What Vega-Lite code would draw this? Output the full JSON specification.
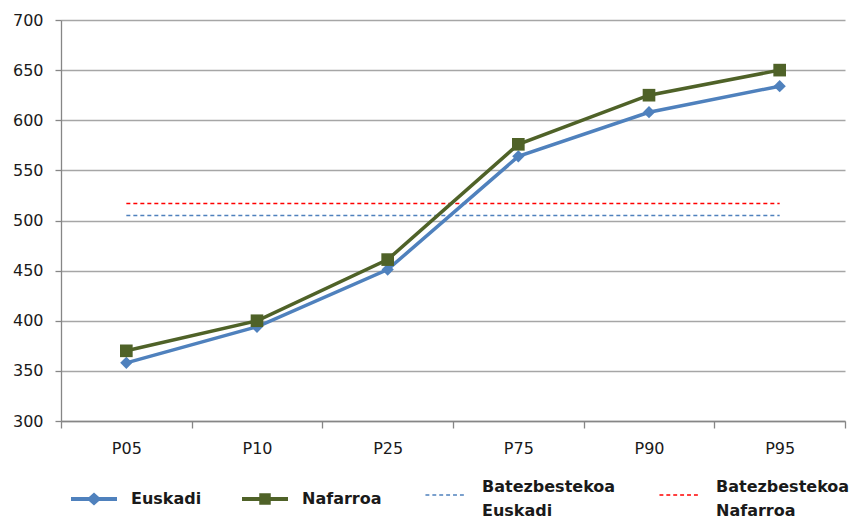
{
  "$schema": "https://vega.github.io/schema/vega-lite/v6.json",
  "width": 784,
  "height": 401,
  "autosize": {"type": "none"},
  "padding": {"left": 61, "top": 20, "right": 14, "bottom": 99},
  "background": "white",
  "config": {"view": {"stroke": null}, "font": "DejaVu Sans"},
  "data": {
    "values": [
      {"p": "P05", "series": "Euskadi", "value": 358},
      {"p": "P10", "series": "Euskadi", "value": 394},
      {"p": "P25", "series": "Euskadi", "value": 451},
      {"p": "P75", "series": "Euskadi", "value": 564},
      {"p": "P90", "series": "Euskadi", "value": 608},
      {"p": "P95", "series": "Euskadi", "value": 634},
      {"p": "P05", "series": "Nafarroa", "value": 370},
      {"p": "P10", "series": "Nafarroa", "value": 400},
      {"p": "P25", "series": "Nafarroa", "value": 461},
      {"p": "P75", "series": "Nafarroa", "value": 576},
      {"p": "P90", "series": "Nafarroa", "value": 625},
      {"p": "P95", "series": "Nafarroa", "value": 650},
      {"p": "P05", "series": "Batezbestekoa Euskadi", "value": 505},
      {"p": "P10", "series": "Batezbestekoa Euskadi", "value": 505},
      {"p": "P25", "series": "Batezbestekoa Euskadi", "value": 505},
      {"p": "P75", "series": "Batezbestekoa Euskadi", "value": 505},
      {"p": "P90", "series": "Batezbestekoa Euskadi", "value": 505},
      {"p": "P95", "series": "Batezbestekoa Euskadi", "value": 505},
      {"p": "P05", "series": "Batezbestekoa Nafarroa", "value": 517},
      {"p": "P10", "series": "Batezbestekoa Nafarroa", "value": 517},
      {"p": "P25", "series": "Batezbestekoa Nafarroa", "value": 517},
      {"p": "P75", "series": "Batezbestekoa Nafarroa", "value": 517},
      {"p": "P90", "series": "Batezbestekoa Nafarroa", "value": 517},
      {"p": "P95", "series": "Batezbestekoa Nafarroa", "value": 517}
    ]
  },
  "encoding": {
    "x": {
      "field": "p",
      "type": "nominal",
      "sort": ["P05", "P10", "P25", "P75", "P90", "P95"],
      "scale": {"type": "band", "paddingInner": 0, "paddingOuter": 0},
      "axis": {
        "title": null,
        "labelAngle": 0,
        "tickBand": "extent",
        "grid": false,
        "domainColor": "#868686",
        "domainWidth": 1.3,
        "tickColor": "#868686",
        "tickWidth": 1.3,
        "tickSize": 7,
        "labelFontSize": 16,
        "labelColor": "#1a1a1a",
        "labelPadding": 12
      }
    },
    "y": {
      "field": "value",
      "type": "quantitative",
      "scale": {"domain": [300, 700], "zero": false, "nice": false},
      "axis": {
        "title": null,
        "values": [300, 350, 400, 450, 500, 550, 600, 650, 700],
        "grid": true,
        "gridColor": "#a6a6a6",
        "gridWidth": 1.3,
        "domainColor": "#868686",
        "domainWidth": 1.3,
        "tickColor": "#868686",
        "tickWidth": 1.3,
        "tickSize": 6,
        "labelFontSize": 16,
        "labelColor": "#1a1a1a",
        "labelPadding": 12
      }
    }
  },
  "layer": [
    {
      "transform": [{"filter": {"field": "series", "equal": "Batezbestekoa Euskadi"}}],
      "mark": {"type": "line", "strokeWidth": 1.4, "strokeDash": [4, 3], "color": "#4f81bd"},
      "encoding": {}
    },
    {
      "transform": [{"filter": {"field": "series", "equal": "Batezbestekoa Nafarroa"}}],
      "mark": {"type": "line", "strokeWidth": 1.4, "strokeDash": [4, 3], "color": "#ff0000"},
      "encoding": {}
    },
    {
      "transform": [{"filter": {"field": "series", "equal": "Euskadi"}}],
      "mark": {"type": "line", "strokeWidth": 3.5, "color": "#4f81bd"},
      "encoding": {}
    },
    {
      "transform": [{"filter": {"field": "series", "equal": "Nafarroa"}}],
      "mark": {"type": "line", "strokeWidth": 3.5, "color": "#4f6228"},
      "encoding": {}
    },
    {
      "transform": [{"filter": {"field": "series", "equal": "Euskadi"}}],
      "mark": {"type": "point", "shape": "diamond", "filled": true, "opacity": 1, "size": 150, "color": "#4f81bd"},
      "encoding": {}
    },
    {
      "transform": [{"filter": {"field": "series", "equal": "Nafarroa"}}],
      "mark": {"type": "point", "shape": "square", "filled": true, "opacity": 1, "size": 160, "color": "#4f6228"},
      "encoding": {}
    },
    {
      "transform": [{"filter": {"field": "p", "equal": "P05"}}],
      "mark": {"type": "point", "filled": true, "opacity": 0, "size": 2116, "tooltip": null},
      "encoding": {
        "color": {
          "field": "series",
          "type": "nominal",
          "scale": {
            "domain": ["Euskadi", "Nafarroa", "Batezbestekoa Euskadi", "Batezbestekoa Nafarroa"],
            "range": ["#4f81bd", "#4f6228", "#4f81bd", "#ff0000"]
          },
          "legend": {
            "title": null,
            "orient": "none",
            "legendX": 10,
            "legendY": 444,
            "direction": "horizontal",
            "columns": 4,
            "symbolSize": 2116,
            "symbolStrokeWidth": 0,
            "labelFontSize": 16,
            "labelFontWeight": "bold",
            "labelColor": "#1a1a1a",
            "labelOffset": 14,
            "labelLimit": 300,
            "columnPadding": 40,
            "labelExpr": "split(datum.label, ' ')",
            "encode": {
              "symbols": {"update": {"opacity": {"value": 1}}},
              "labels": {"update": {"lineHeight": {"value": 24}}}
            }
          }
        },
        "shape": {
          "field": "series",
          "type": "nominal",
          "scale": {
            "domain": ["Euskadi", "Nafarroa", "Batezbestekoa Euskadi", "Batezbestekoa Nafarroa"],
            "range": [
              "M-1,-0.09L-0.22,-0.09L0,-0.28L0.22,-0.09L1,-0.09L1,0.09L0.22,0.09L0,0.28L-0.22,0.09L-1,0.09Z",
              "M-1,-0.09L-0.25,-0.09L-0.25,-0.25L0.25,-0.25L0.25,-0.09L1,-0.09L1,0.09L0.25,0.09L0.25,0.25L-0.25,0.25L-0.25,0.09L-1,0.09Z",
              "M-0.85,0.32H-0.68V0.38H-0.85Z M-0.55,0.32H-0.38V0.38H-0.55Z M-0.25,0.32H-0.08V0.38H-0.25Z M0.05,0.32H0.22V0.38H0.05Z M0.35,0.32H0.52V0.38H0.35Z M0.65,0.32H0.82V0.38H0.65Z",
              "M-0.85,0.32H-0.68V0.38H-0.85Z M-0.55,0.32H-0.38V0.38H-0.55Z M-0.25,0.32H-0.08V0.38H-0.25Z M0.05,0.32H0.22V0.38H0.05Z M0.35,0.32H0.52V0.38H0.35Z M0.65,0.32H0.82V0.38H0.65Z"
            ]
          },
          "legend": {
            "title": null,
            "orient": "none",
            "legendX": 10,
            "legendY": 444,
            "direction": "horizontal",
            "columns": 4,
            "symbolSize": 2116,
            "symbolStrokeWidth": 0,
            "labelFontSize": 16,
            "labelFontWeight": "bold",
            "labelColor": "#1a1a1a",
            "labelOffset": 14,
            "labelLimit": 300,
            "columnPadding": 40,
            "labelExpr": "split(datum.label, ' ')",
            "encode": {
              "symbols": {"update": {"opacity": {"value": 1}}},
              "labels": {"update": {"lineHeight": {"value": 24}}}
            }
          }
        }
      }
    }
  ]
}
